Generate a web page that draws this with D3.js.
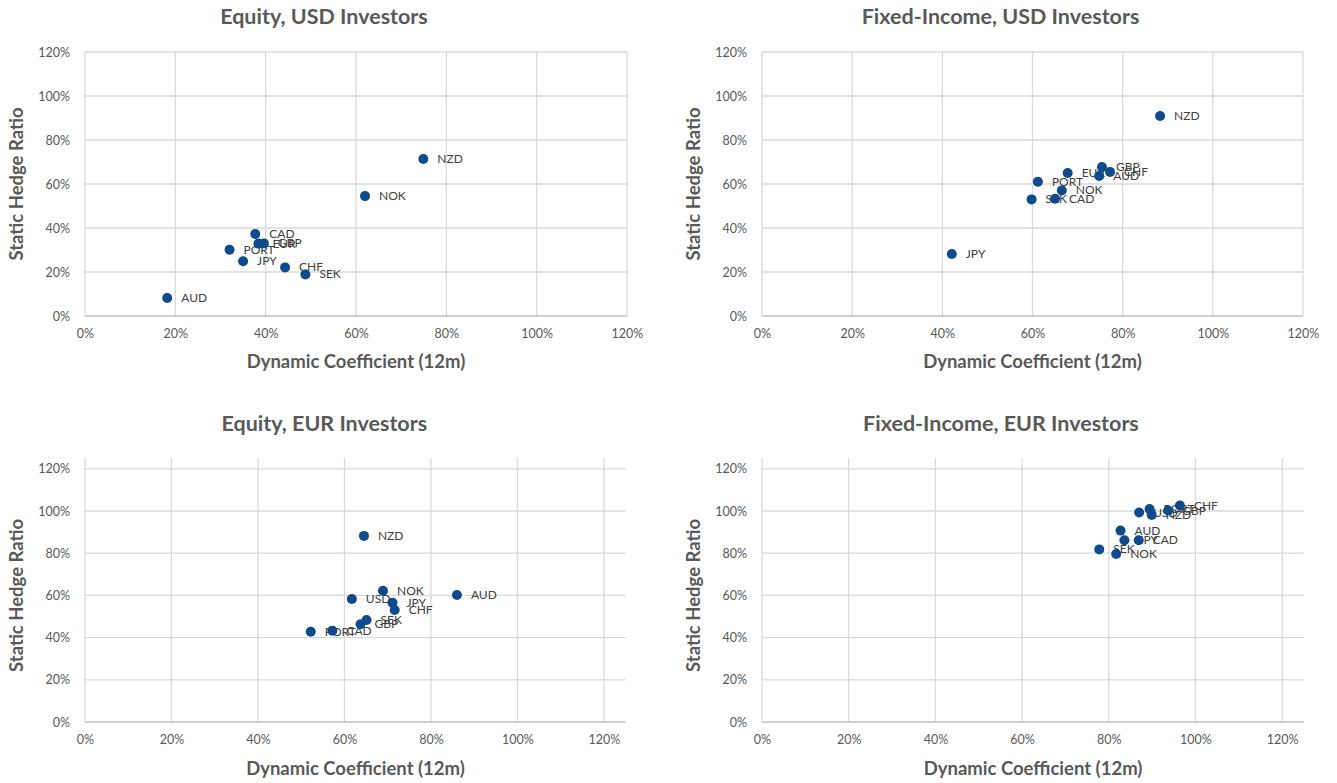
<!DOCTYPE html>
<html>
<head>
<meta charset="utf-8">
<script src="https://cdn.jsdelivr.net/npm/d3@7"></script>
<style>
  html, body { margin: 0; padding: 0; background: #ffffff; }
  svg { display: block; }
</style>
</head>
<body>
<svg id="chart" width="1337" height="783"></svg>
<script>
// ---- Data ----
const tickValues = [0, 0.2, 0.4, 0.6, 0.8, 1.0, 1.2];
const xAxisTitle = "Dynamic Coefficient (12m)";
const yAxisTitle = "Static Hedge Ratio";

// Equity, USD Investors
const eqUsdTitle = "Equity, USD Investors";
const eqUsdNames = ["NZD", "NOK", "CAD", "EUR", "GBP", "PORT", "JPY", "CHF", "SEK", "AUD"];
const eqUsdX = [0.749, 0.620, 0.377, 0.384, 0.396, 0.320, 0.350, 0.443, 0.488, 0.182];
const eqUsdY = [0.714, 0.545, 0.373, 0.329, 0.330, 0.301, 0.249, 0.221, 0.189, 0.082];

// Fixed-Income, USD Investors
const fiUsdTitle = "Fixed-Income, USD Investors";
const fiUsdNames = ["NZD", "JPY", "PORT", "SEK", "CAD", "NOK", "EUR", "GBP", "AUD", "CHF"];
const fiUsdX = [0.883, 0.421, 0.612, 0.598, 0.650, 0.665, 0.678, 0.754, 0.748, 0.772];
const fiUsdY = [0.909, 0.282, 0.610, 0.530, 0.533, 0.571, 0.650, 0.677, 0.636, 0.655];

// Equity, EUR Investors
const eqEurTitle = "Equity, EUR Investors";
const eqEurNames = ["NZD", "AUD", "NOK", "USD", "JPY", "CHF", "SEK", "GBP", "PORT", "CAD"];
const eqEurX = [0.645, 0.860, 0.689, 0.617, 0.711, 0.716, 0.651, 0.637, 0.522, 0.572];
const eqEurY = [0.882, 0.602, 0.622, 0.583, 0.565, 0.531, 0.483, 0.463, 0.428, 0.433];

// Fixed-Income, EUR Investors
const fiEurTitle = "Fixed-Income, EUR Investors";
const fiEurNames = ["USD", "PORT", "NZD", "GBP", "CHF", "AUD", "JPY", "CAD", "SEK", "NOK"];
const fiEurX = [0.870, 0.894, 0.899, 0.937, 0.964, 0.827, 0.836, 0.869, 0.778, 0.817];
const fiEurY = [0.993, 1.009, 0.981, 1.002, 1.026, 0.907, 0.861, 0.861, 0.818, 0.796];

// ---- Styling ----
const FONT = "Lato, 'Open Sans', 'Liberation Sans', sans-serif";
const textGrey = "#595959";
const labelGrey = "#404040";
const gridColor = "#d9d9d9";
const axisColor = "#bfbfbf";
const dotColor = "#0f4a8a";

const svg = d3.select("#chart");
const pct = d3.format(".0%");

function panel(cfg) {
  const { title, names, xs, ys, left, right, top, bottom, domainMax, titleY, xTitleY, yTitleX } = cfg;
  const x = d3.scaleLinear().domain([0, domainMax]).range([left, right]);
  const y = d3.scaleLinear().domain([0, domainMax]).range([bottom, top]);
  const g = svg.append("g");

  // Gridlines
  g.append("g").selectAll("line.h").data(tickValues.slice(1)).join("line")
    .attr("x1", x(0)).attr("x2", x(domainMax))
    .attr("y1", d => y(d)).attr("y2", d => y(d))
    .attr("stroke", gridColor).attr("stroke-width", 1.3);
  g.append("g").selectAll("line.v").data(tickValues.slice(1)).join("line")
    .attr("y1", y(0)).attr("y2", y(domainMax))
    .attr("x1", d => x(d)).attr("x2", d => x(d))
    .attr("stroke", gridColor).attr("stroke-width", 1.3);

  // Axes
  const xAxis = d3.axisBottom(x).tickValues(tickValues).tickFormat(pct).tickSize(0).tickPadding(13);
  const yAxis = d3.axisLeft(y).tickValues(tickValues).tickFormat(pct).tickSize(0).tickPadding(15);
  const gx = g.append("g").attr("transform", `translate(0,${y(0)})`).call(xAxis);
  const gy = g.append("g").attr("transform", `translate(${x(0)},0)`).call(yAxis);
  gx.select(".domain").attr("stroke", axisColor).attr("stroke-width", 1.5)
    .attr("d", `M${x(0)},0H${x(domainMax)}`);
  gy.select(".domain").attr("stroke", gridColor).attr("stroke-width", 1.3)
    .attr("d", `M0,${y(0)}V${y(domainMax)}`);
  [gx, gy].forEach(a => a.selectAll("text")
    .attr("fill", textGrey).style("font-family", FONT).style("font-size", "12.5px"));

  // Titles
  g.append("text").attr("x", (x(0) + x(domainMax)) / 2 + cfg.titleDx).attr("y", titleY)
    .attr("text-anchor", "middle").attr("dominant-baseline", "middle")
    .attr("fill", textGrey).style("font-family", FONT).style("font-weight", "bold")
    .style("font-size", "21.5px").text(title);
  g.append("text").attr("x", (x(0) + x(1.2)) / 2 + cfg.xTitleDx).attr("y", xTitleY)
    .attr("text-anchor", "middle").attr("dominant-baseline", "middle")
    .attr("fill", textGrey).style("font-family", FONT).style("font-weight", "bold")
    .style("font-size", "18.5px").text(xAxisTitle);
  g.append("text")
    .attr("transform", `translate(${yTitleX},${(y(0) + y(1.2)) / 2}) rotate(-90)`)
    .attr("text-anchor", "middle").attr("dominant-baseline", "middle")
    .attr("fill", textGrey).style("font-family", FONT).style("font-weight", "bold")
    .style("font-size", "18.5px").text(yAxisTitle);

  const data = names.map((n, i) => ({ name: n, x: xs[i], y: ys[i] }));

  // Data labels (drawn beneath markers)
  g.append("g").selectAll("text").data(data).join("text")
    .attr("x", d => x(d.x) + 14).attr("y", d => y(d.y) + 1)
    .attr("dominant-baseline", "middle")
    .attr("fill", labelGrey).style("font-family", FONT).style("font-size", "12px")
    .text(d => d.name);

  // Markers
  g.append("g").selectAll("circle").data(data).join("circle")
    .attr("cx", d => x(d.x)).attr("cy", d => y(d.y)).attr("r", 5)
    .attr("fill", dotColor);
}

panel({ title: eqUsdTitle, names: eqUsdNames, xs: eqUsdX, ys: eqUsdY,
  left: 85, right: 627, top: 52, bottom: 316, domainMax: 1.2,
  titleY: 18, titleDx: -32, xTitleY: 363, xTitleDx: 0, yTitleX: 18 });
panel({ title: fiUsdTitle, names: fiUsdNames, xs: fiUsdX, ys: fiUsdY,
  left: 762, right: 1303, top: 52, bottom: 316, domainMax: 1.2,
  titleY: 18, titleDx: -32, xTitleY: 363, xTitleDx: 0, yTitleX: 695 });
panel({ title: eqEurTitle, names: eqEurNames, xs: eqEurX, ys: eqEurY,
  left: 85, right: 85 + 4.325 * 125, top: 722 - 2.11 * 125, bottom: 722, domainMax: 1.25,
  titleY: 425, titleDx: -31, xTitleY: 770, xTitleDx: 11, yTitleX: 18 });
panel({ title: fiEurTitle, names: fiEurNames, xs: fiEurX, ys: fiEurY,
  left: 762, right: 762 + 4.335 * 125, top: 722 - 2.11 * 125, bottom: 722, domainMax: 1.25,
  titleY: 425, titleDx: -32, xTitleY: 770, xTitleDx: 11, yTitleX: 695 });
</script>
</body>
</html>
